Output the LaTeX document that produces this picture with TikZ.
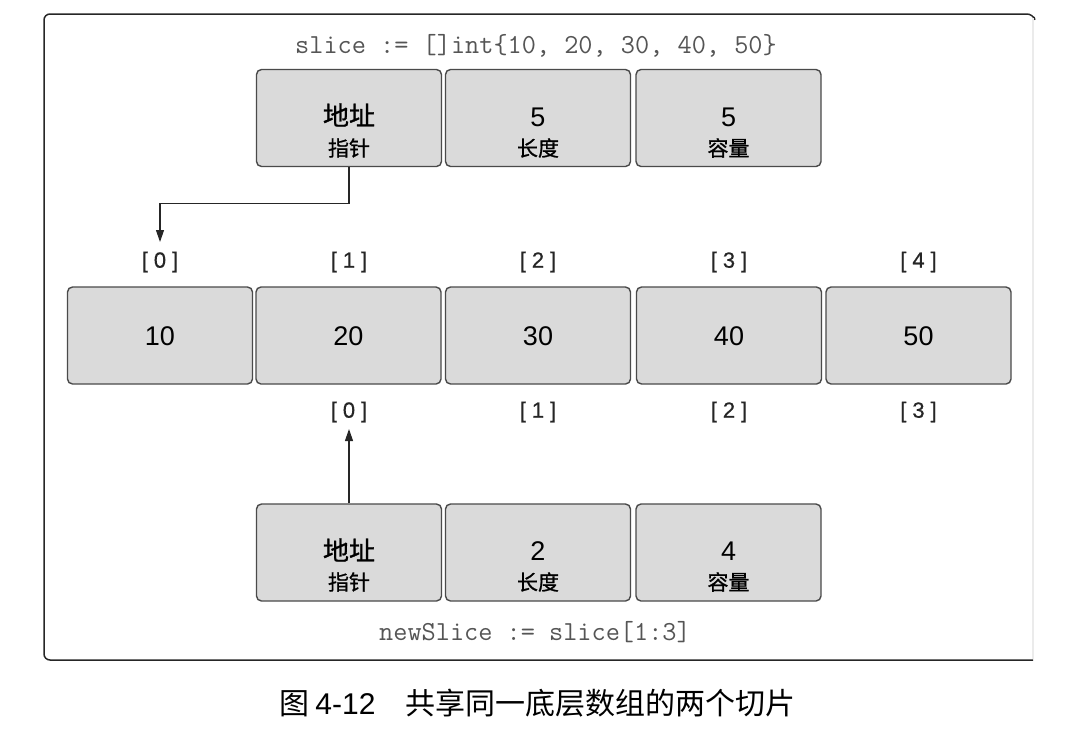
\documentclass[tikz,border=0pt]{standalone}
\usepackage{fontspec}
\setmainfont{Liberation Sans}
\newfontfamily\cjk{Noto Sans CJK SC}
\newfontfamily\cjkbold[FakeBold=1]{Noto Sans CJK SC}
\newfontfamily\idxfont[FakeBold=0.6]{Liberation Sans}
\usetikzlibrary{arrows.meta}
\definecolor{cellfill}{HTML}{DADADA}
\definecolor{celledge}{HTML}{4A4A4A}
\definecolor{codegray}{HTML}{555555}
\newcommand{\fs}[1]{\fontsize{#1pt}{#1pt}\selectfont}
\newcommand{\idx}[1]{[\hspace{6pt}#1\hspace{6pt}]}
\begin{document}
\begin{tikzpicture}[x=1pt,y=-1pt,
  cell/.style={draw=celledge, fill=cellfill, line width=1.4pt, rounded corners=5pt,
               minimum width=185pt, minimum height=97pt, inner sep=0pt},
  num/.style={inner sep=0pt, font=\fs{27}},
  big/.style={inner sep=0pt, font=\cjkbold\fs{26}},
  small/.style={inner sep=0pt, font=\cjkbold\fs{21}},
  index/.style={inner sep=0pt, font=\idxfont\fs{22}, text=black!85},
  code/.style={inner sep=0pt, font=\ttfamily\fs{27.5}, text=codegray},
  arr/.style={line width=1.2pt, draw=black!85, -{Triangle[length=12pt,width=8pt]}}]
\useasboundingbox (0,0) rectangle (1090,748);

% outer frame
\draw[line width=1.5pt, draw=black!85, rounded corners=6pt]
  (1033,660) -- (44,660) -- (44,14) -- (1033,14) -- (1034,17);
\draw[line width=1.5pt, draw=black!8] (1033,18) -- (1033,659);

% slice header
\node[code] (c1) at (536,46) {slice := []int\{10, 20, 30, 40, 50\}};
\node[cell] (tp) at (349,118) {};
\node[cell] (tl) at (538,118) {};
\node[cell] (tc) at (728.5,118) {};
\node[big]   (tpa) at (349,115) {地址};
\node[small] (tpb) at (349,148) {指针};
\node[num]   (tla) at (538,117) {5};
\node[small] (tlb) at (538,148) {长度};
\node[num]   (tca) at (728.5,117) {5};
\node[small] (tcb) at (728.5,148) {容量};

% underlying array
\node[index] (i0) at (160,262) {\idx{0}};
\node[index] (i1) at (349,262) {\idx{1}};
\node[index] (i2) at (538,262) {\idx{2}};
\node[index] (i3) at (729,262) {\idx{3}};
\node[index] (i4) at (918.5,262) {\idx{4}};
\node[cell] (a0) at (160,335.5) {};
\node[cell] (a1) at (348.5,335.5) {};
\node[cell] (a2) at (538,335.5) {};
\node[cell] (a3) at (729,335.5) {};
\node[cell] (a4) at (918.5,335.5) {};
\node[num] (v0) at (160,336) {10};
\node[num] (v1) at (348.5,336) {20};
\node[num] (v2) at (538,336) {30};
\node[num] (v3) at (729,336) {40};
\node[num] (v4) at (918.5,336) {50};
\node[index] (j0) at (349,412) {\idx{0}};
\node[index] (j1) at (538,412) {\idx{1}};
\node[index] (j2) at (729,412) {\idx{2}};
\node[index] (j3) at (918.5,412) {\idx{3}};

% newSlice header
\node[cell] (bp) at (349,552.5) {};
\node[cell] (bl) at (538,552.5) {};
\node[cell] (bc) at (728.5,552.5) {};
\node[big]   (bpa) at (349,550) {地址};
\node[small] (bpb) at (349,582) {指针};
\node[num]   (bla) at (538,551) {2};
\node[small] (blb) at (538,582) {长度};
\node[num]   (bca) at (728.5,551) {4};
\node[small] (bcb) at (728.5,582) {容量};
\node[code] (c2) at (535,632) {newSlice := slice[1:3]};

% pointers
\coordinate (t0) at (160,242);
\coordinate (t1) at (349,429);
\draw[arr] (tp.south) -- ++(0,36) -| (t0);
\draw[arr] (bp.north) -- (t1);

% caption
\node[inner sep=0pt, font=\fs{30}] (cap) at (537.5,703)
  {{\cjk 图}\hspace{6pt}4-12\hspace{30pt}{\cjk 共享同一底层数组的两个切片}};
\end{tikzpicture}
\end{document}
